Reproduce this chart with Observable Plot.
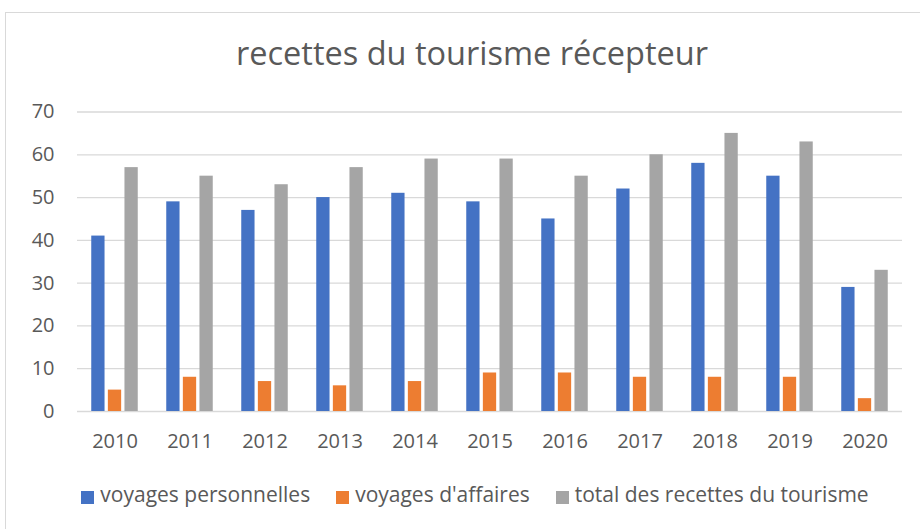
<!DOCTYPE html>
<html>
<head>
<meta charset="utf-8">
<script src="https://cdn.jsdelivr.net/npm/d3@7"></script>
<script src="https://cdn.jsdelivr.net/npm/@observablehq/plot@0.6"></script>
<style>
  html, body { margin: 0; padding: 0; background: #fff; }
  #wrap { position: relative; width: 920px; height: 529px; overflow: hidden; font-family: 'Open Sans', sans-serif; color: #595959; }
  #box { position: absolute; left: 5px; top: 12px; width: 940px; height: 540px; border: 1px solid #d9d9d9; box-sizing: border-box; }
  #title { position: absolute; left: 0; top: 37px; width: 944px; text-align: center; font-size: 32.5px; line-height: 32.5px; white-space: nowrap; }
  #chart { position: absolute; left: 0; top: 90px; }
  #legend { position: absolute; left: 0; top: 484px; width: 950px; display: flex; justify-content: center; font-size: 21px; line-height: 20px; white-space: nowrap; }
  .item { display: flex; align-items: flex-end; margin: 0 13px; }
  .sw { width: 13px; height: 13px; margin-right: 6px; margin-bottom: 0px; }
</style>
</head>
<body>
<div id="wrap">
  <div id="box"></div>
  <div id="title">recettes du tourisme récepteur</div>
  <div id="chart"></div>
  <div id="legend"></div>
</div>
<script>
const years = ["2010","2011","2012","2013","2014","2015","2016","2017","2018","2019","2020"];
const series = ["voyages personnelles", "voyages d'affaires", "total des recettes du tourisme"];
const personnelles = [41, 49, 47, 50, 51, 49, 45, 52, 58, 55, 29];
const affaires = [5, 8, 7, 6, 7, 9, 9, 8, 8, 8, 3];
const total = [57, 55, 53, 57, 59, 59, 55, 60, 65, 63, 33];
const colors = ["#4472C4", "#ED7D31", "#A5A5A5"];
const yTicks = [0, 10, 20, 30, 40, 50, 60, 70];

const valuesBySeries = [personnelles, affaires, total];
const rows = [];
years.forEach((year, i) => {
  series.forEach((s, j) => rows.push({year, series: s, value: valuesBySeries[j][i]}));
});

const chart = Plot.plot({
  width: 920,
  height: 380,
  marginLeft: 75,
  marginRight: 17,
  marginTop: 21.5,
  marginBottom: 59,
  style: {fontFamily: "'Open Sans', sans-serif", fontSize: "20px", color: "#595959", background: "transparent", overflow: "visible"},
  fx: {domain: years, padding: 0, axis: "bottom", label: null, tickSize: 0, tickPadding: 22},
  x: {domain: series, axis: null, paddingInner: 0.2, paddingOuter: 0.858, round: false},
  y: {domain: [0, 70], ticks: yTicks, tickSize: 0, tickPadding: 23, label: null},
  color: {domain: series, range: colors},
  marks: [
    Plot.ruleY(yTicks, {stroke: "#d9d9d9", strokeWidth: 1.3}),
    Plot.barY(rows, {fx: "year", x: "series", y: "value", fill: "series"})
  ]
});
document.getElementById("chart").appendChild(chart);

const legend = document.getElementById("legend");
series.forEach((s, j) => {
  const item = document.createElement("div");
  item.className = "item";
  const sw = document.createElement("span");
  sw.className = "sw";
  sw.style.background = colors[j];
  const label = document.createElement("span");
  label.textContent = s;
  item.appendChild(sw);
  item.appendChild(label);
  legend.appendChild(item);
});
</script>
</body>
</html>
